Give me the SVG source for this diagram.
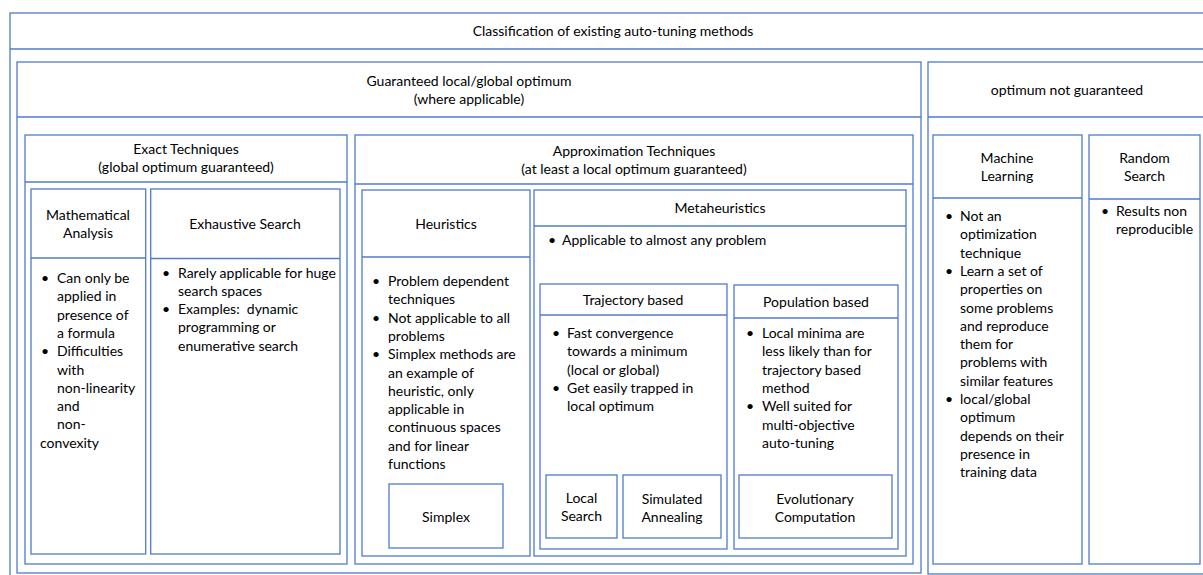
<svg xmlns="http://www.w3.org/2000/svg" width="1203" height="575" viewBox="0 0 1203 575">
<style>
.b{fill:none;stroke:#4F7BCB;stroke-width:1.3}
text{font-family:Lato,"Liberation Sans",sans-serif;font-size:14px;fill:#000}
.c{text-anchor:middle}
</style>
<rect width="1203" height="575" fill="#fff"/>
<g id="root">
<rect class="b" x="10" y="13" width="1200" height="570"/>
<line class="b" x1="10" y1="49" x2="1210" y2="49"/>
<text class="c" x="613" y="36">Classification of existing auto-tuning methods</text>
</g>
<g id="guaranteed">
<rect class="b" x="17" y="62" width="904" height="511"/>
<line class="b" x1="17" y1="117" x2="921" y2="117"/>
<text class="c" x="469" y="86">Guaranteed local/global optimum</text>
<text class="c" x="469" y="104">(where applicable)</text>
</g>
<g id="not-guaranteed">
<rect class="b" x="928" y="62" width="285" height="512"/>
<line class="b" x1="928" y1="117" x2="1210" y2="117"/>
<text class="c" x="1067" y="95">optimum not guaranteed</text>
</g>
<g id="exact">
<rect class="b" x="25" y="135" width="322" height="429"/>
<line class="b" x1="25" y1="182" x2="347" y2="182"/>
<text class="c" x="186" y="154">Exact Techniques</text>
<text class="c" x="186" y="172">(global optimum guaranteed)</text>
</g>
<g id="math-analysis">
<rect class="b" x="31" y="189" width="114.7" height="365"/>
<line class="b" x1="31" y1="258" x2="145.7" y2="258"/>
<text class="c" x="88" y="220">Mathematical</text>
<text class="c" x="88" y="238">Analysis</text>
<text x="41" y="283">•</text><text x="41" y="356">•</text>
<text><tspan x="57" y="283">Can only be</tspan><tspan x="57" y="301.3">applied in</tspan><tspan x="57" y="319.6">presence of</tspan><tspan x="57" y="337.9">a formula</tspan><tspan x="57" y="356.2">Difficulties</tspan><tspan x="57" y="374.5">with</tspan><tspan x="57" y="392.8">non-linearity</tspan><tspan x="57" y="411.1">and</tspan><tspan x="57" y="429.4">non-</tspan><tspan x="40" y="447.7">convexity</tspan></text>
</g>
<g id="exhaustive">
<rect class="b" x="150.7" y="189" width="189.3" height="365"/>
<line class="b" x1="150.7" y1="258.5" x2="340" y2="258.5"/>
<text class="c" x="245" y="229">Exhaustive Search</text>
<text x="162" y="277.5">•</text><text x="162" y="314.2">•</text>
<text><tspan x="178" y="277.5">Rarely applicable for huge</tspan><tspan x="178" y="295.8">search spaces</tspan><tspan x="178" y="314.1">Examples:&#160; dynamic</tspan><tspan x="178" y="332.4">programming or</tspan><tspan x="178" y="350.7">enumerative search</tspan></text>
</g>
<g id="approximation">
<rect class="b" x="355" y="135" width="558" height="429"/>
<line class="b" x1="355" y1="184" x2="913" y2="184"/>
<text class="c" x="634" y="156">Approximation Techniques</text>
<text class="c" x="634" y="174">(at least a local optimum guaranteed)</text>
</g>
<g id="heuristics">
<rect class="b" x="362" y="190" width="168" height="366"/>
<line class="b" x1="362" y1="257" x2="530" y2="257"/>
<text class="c" x="446" y="229">Heuristics</text>
<text x="372" y="286">•</text><text x="372" y="322.6">•</text><text x="372" y="359.2">•</text>
<text><tspan x="388" y="286">Problem dependent</tspan><tspan x="388" y="304.3">techniques</tspan><tspan x="388" y="322.6">Not applicable to all</tspan><tspan x="388" y="340.9">problems</tspan><tspan x="388" y="359.2">Simplex methods are</tspan><tspan x="388" y="377.5">an example of</tspan><tspan x="388" y="395.8">heuristic, only</tspan><tspan x="388" y="414.1">applicable in</tspan><tspan x="388" y="432.4">continuous spaces</tspan><tspan x="388" y="450.7">and for linear</tspan><tspan x="388" y="469">functions</tspan></text>
</g>
<g id="simplex">
<rect class="b" x="389" y="484" width="114" height="64"/>
<text class="c" x="446" y="522">Simplex</text>
</g>
<g id="metaheuristics">
<rect class="b" x="534" y="190" width="372" height="366"/>
<line class="b" x1="534" y1="226" x2="906" y2="226"/>
<text class="c" x="720" y="213">Metaheuristics</text>
<text x="548" y="245">•</text>
<text x="562" y="245">Applicable to almost any problem</text>
</g>
<g id="trajectory">
<rect class="b" x="540" y="284" width="187" height="265"/>
<line class="b" x1="540" y1="315" x2="727" y2="315"/>
<text class="c" x="633" y="305">Trajectory based</text>
<text x="552" y="338">•</text><text x="552" y="392.9">•</text>
<text><tspan x="567" y="338">Fast convergence</tspan><tspan x="567" y="356.3">towards a minimum</tspan><tspan x="567" y="374.6">(local or global)</tspan><tspan x="567" y="392.9">Get easily trapped in</tspan><tspan x="567" y="411.2">local optimum</tspan></text>
</g>
<g id="local-search">
<rect class="b" x="546" y="475" width="71" height="63"/>
<text class="c" x="581.5" y="503">Local</text>
<text class="c" x="581.5" y="521">Search</text>
</g>
<g id="simulated-annealing">
<rect class="b" x="623" y="475" width="98" height="63"/>
<text class="c" x="672" y="504">Simulated</text>
<text class="c" x="672" y="522">Annealing</text>
</g>
<g id="population">
<rect class="b" x="734" y="285" width="164" height="264"/>
<line class="b" x1="734" y1="318" x2="898" y2="318"/>
<text class="c" x="816" y="307">Population based</text>
<text x="746" y="338">•</text><text x="746" y="411.2">•</text>
<text><tspan x="762" y="338">Local minima are</tspan><tspan x="762" y="356.3">less likely than for</tspan><tspan x="762" y="374.6">trajectory based</tspan><tspan x="762" y="392.9">method</tspan><tspan x="762" y="411.2">Well suited for</tspan><tspan x="762" y="429.5">multi-objective</tspan><tspan x="762" y="447.8">auto-tuning</tspan></text>
</g>
<g id="evolutionary">
<rect class="b" x="739" y="475" width="153" height="63"/>
<text class="c" x="815" y="504">Evolutionary</text>
<text class="c" x="815" y="522">Computation</text>
</g>
<g id="machine-learning">
<rect class="b" x="933" y="135" width="149" height="429"/>
<line class="b" x1="933" y1="198" x2="1082" y2="198"/>
<text class="c" x="1007" y="163">Machine</text>
<text class="c" x="1007" y="181">Learning</text>
<text x="945" y="221">•</text><text x="945" y="276">•</text><text x="945" y="404">•</text>
<text><tspan x="960" y="221">Not an</tspan><tspan x="960" y="239.3">optimization</tspan><tspan x="960" y="257.6">technique</tspan><tspan x="960" y="275.9">Learn a set of</tspan><tspan x="960" y="294.2">properties on</tspan><tspan x="960" y="312.5">some problems</tspan><tspan x="960" y="330.8">and reproduce</tspan><tspan x="960" y="349.1">them for</tspan><tspan x="960" y="367.4">problems with</tspan><tspan x="960" y="385.7">similar features</tspan><tspan x="960" y="404">local/global</tspan><tspan x="960" y="422.3">optimum</tspan><tspan x="960" y="440.6">depends on their</tspan><tspan x="960" y="458.9">presence in</tspan><tspan x="960" y="477.2">training data</tspan></text>
</g>
<g id="random-search">
<rect class="b" x="1089" y="135" width="111" height="429"/>
<line class="b" x1="1089" y1="199" x2="1200" y2="199"/>
<text class="c" x="1144.5" y="163">Random</text>
<text class="c" x="1144.5" y="181">Search</text>
<text x="1101" y="216">•</text>
<text><tspan x="1116" y="216">Results non</tspan><tspan x="1116" y="234.3">reproducible</tspan></text>
</g>
<g id="connectors"/>
</svg>
